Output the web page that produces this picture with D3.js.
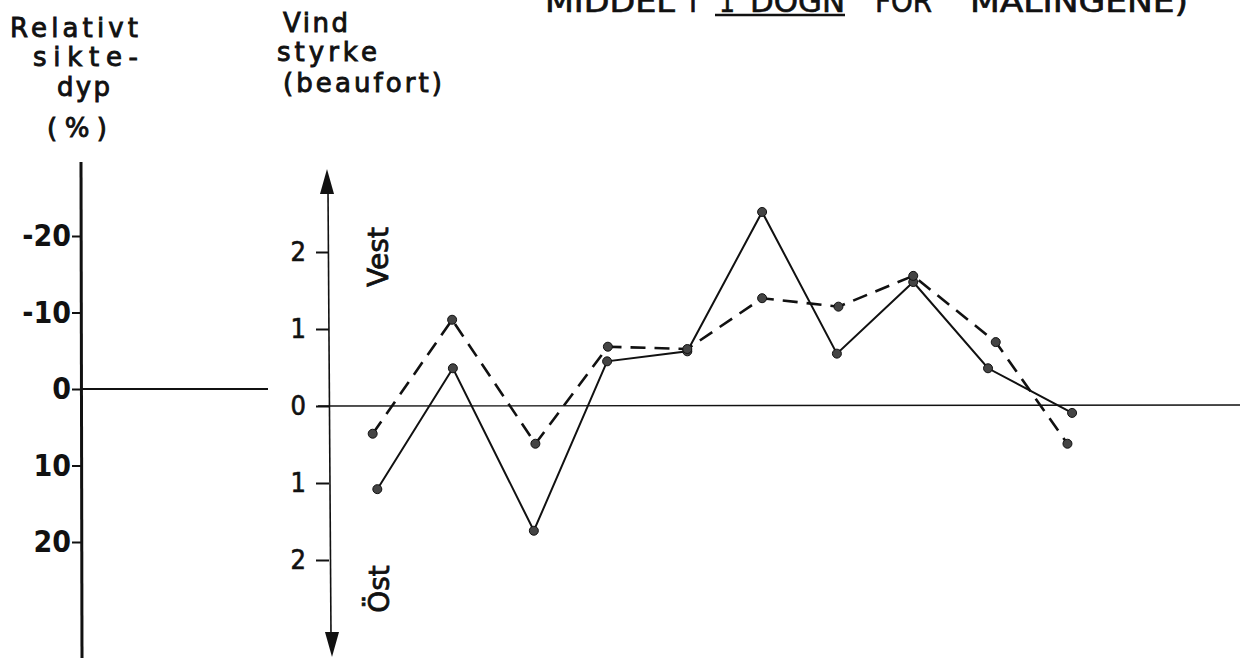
<!DOCTYPE html>
<html>
<head>
<meta charset="utf-8">
<script src="https://cdn.jsdelivr.net/npm/d3@7"></script>
<style>
  body { margin: 0; background: #fff; }
  svg text { font-family: "DejaVu Sans", sans-serif; fill: #111; }
  .tick line { stroke: #111; stroke-width: 2; }
</style>
</head>
<body>
<div id="chart"></div>
<script>
// days along the x axis (slightly uneven like the original)
var solidDays = [1.03, 2.01, 3.06, 4.01, 5.05, 6.02, 6.99, 7.98, 8.95, 10.04];
var dashedDays = [0.97, 2.0, 3.08, 4.02, 5.05, 6.02, 7.01, 7.98, 9.05, 9.98];

// wind strength in beaufort, + = Vest, - = Öst
var solidWind = [-1.08, 0.49, -1.62, 0.58, 0.71, 2.52, 0.68, 1.61, 0.49, -0.09];
var dashedWind = [-0.36, 1.12, -0.49, 0.77, 0.74, 1.40, 1.29, 1.69, 0.83, -0.49];

var siktTicks = [-20, -10, 0, 10, 20];
var windTicks = [-2, -1, 0, 1, 2];

var titleWords = ['MIDDEL', 'I', '1', 'DOGN', 'FOR', 'MALINGENE)'];

var width = 1240, height = 658;

var svg = d3.select('#chart').append('svg')
    .attr('width', width)
    .attr('height', height);

// scales
var xScale = d3.scaleLinear().domain([1, 10]).range([375, 1069]);
var windScale = d3.scaleLinear().domain([-2, 2]).range([560, 252]);
var siktScale = d3.scaleLinear().domain([-20, 20]).range([236, 542]);

// title, cut off by the top edge like in the scan
var titlePos = [[545, 130], [689, 8], [719, 16], [750, 95], [875, 57], [970, 218]];
svg.selectAll('.tw').data(titleWords).enter().append('text')
    .attr('class', 'tw')
    .attr('x', function(d, i) { return titlePos[i][0]; })
    .attr('y', 12)
    .attr('font-size', 30)
    .attr('textLength', function(d, i) { return titlePos[i][1]; })
    .attr('lengthAdjust', 'spacingAndGlyphs')
    .attr('stroke', '#111').attr('stroke-width', 0.6)
    .style('font-family', '"DejaVu Sans Condensed", "DejaVu Sans", sans-serif')
    .text(function(d) { return d; });
svg.append('line')
    .attr('x1', 715).attr('x2', 845)
    .attr('y1', 15).attr('y2', 15)
    .attr('stroke', '#111').attr('stroke-width', 2.5);

// axis titles
var leftLab = [
    {t: 'Relativt', x: 10, y: 37, w: 128},
    {t: 'sikte-', x: 33, y: 66, w: 105},
    {t: 'dyp', x: 57, y: 96, w: 53},
    {t: '(%)', x: 47, y: 137, w: 60}
];
var rightLab = [
    {t: 'Vind', x: 283, y: 32, w: 65},
    {t: 'styrke', x: 277, y: 61, w: 100},
    {t: '(beaufort)', x: 283, y: 92, w: 159}
];
svg.selectAll('.lab').data(leftLab.concat(rightLab)).enter().append('text')
    .attr('class', 'lab')
    .attr('x', function(d) { return d.x; })
    .attr('y', function(d) { return d.y; })
    .attr('font-size', 26)
    .attr('textLength', function(d) { return d.w; })
    .attr('lengthAdjust', 'spacing')
    .attr('stroke', '#111').attr('stroke-width', 0.9)
    .text(function(d) { return d.t; });

// left axis (relative sight depth)
var siktAxis = d3.axisLeft(siktScale)
    .tickValues(siktTicks)
    .tickSize(10)
    .tickPadding(1)
    .tickFormat(function(d) { return d < 0 ? '-' + Math.abs(d) : d; });

var gl = svg.append('g')
    .attr('transform', 'translate(82,0)')
    .call(siktAxis);
gl.select('.domain').remove();
gl.selectAll('.tick text')
    .attr('font-size', 30)
    .attr('font-weight', 'bold')
    .attr('fill', '#111')
    .style('font-family', '"DejaVu Sans Condensed", "DejaVu Sans", sans-serif');

svg.append('line')
    .attr('x1', 81).attr('x2', 82)
    .attr('y1', 162).attr('y2', 658)
    .attr('stroke', '#111').attr('stroke-width', 3);
svg.append('line')
    .attr('x1', 82).attr('x2', 268)
    .attr('y1', siktScale(0)).attr('y2', siktScale(0))
    .attr('stroke', '#111').attr('stroke-width', 2);

// right axis (wind strength)
var windAxis = d3.axisLeft(windScale)
    .tickValues(windTicks)
    .tickSize(13)
    .tickPadding(10)
    .tickFormat(function(d) { return Math.abs(d); });

var gr = svg.append('g')
    .attr('transform', 'translate(329,0)')
    .call(windAxis);
gr.select('.domain').remove();
gr.selectAll('.tick text')
    .attr('font-size', 27)
    .attr('fill', '#111')
    .attr('stroke', '#111').attr('stroke-width', 0.6)
    .style('font-family', '"DejaVu Sans Condensed", "DejaVu Sans", sans-serif');

svg.append('line')
    .attr('x1', 328).attr('x2', 331)
    .attr('y1', 190).attr('y2', 636)
    .attr('stroke', '#111').attr('stroke-width', 1.6);
svg.append('path')
    .attr('d', 'M327,169 L334,194 L320,194 Z')
    .attr('fill', '#111');
svg.append('path')
    .attr('d', 'M332,657 L339,632 L325,632 Z')
    .attr('fill', '#111');

svg.append('line')
    .attr('x1', 318).attr('x2', width)
    .attr('y1', windScale(0)).attr('y2', windScale(0) - 1)
    .attr('stroke', '#111').attr('stroke-width', 1.3);

// direction labels
svg.append('text')
    .attr('transform', 'translate(388,257) rotate(-90)')
    .attr('text-anchor', 'middle')
    .attr('font-size', 28)
    .attr('stroke', '#111').attr('stroke-width', 0.8)
    .text('Vest');
svg.append('text')
    .attr('transform', 'translate(389,589) rotate(-90)')
    .attr('text-anchor', 'middle')
    .attr('font-size', 28)
    .attr('stroke', '#111').attr('stroke-width', 0.8)
    .text('Öst');

// series
function toPts(days, vals) {
    return days.map(function(d, i) { return {day: d, v: vals[i]}; });
}
var solid = toPts(solidDays, solidWind);
var dashed = toPts(dashedDays, dashedWind);

var line = d3.line()
    .x(function(d) { return xScale(d.day); })
    .y(function(d) { return windScale(d.v); });

svg.append('path')
    .datum(dashed)
    .attr('d', line)
    .attr('fill', 'none')
    .attr('stroke', '#111')
    .attr('stroke-width', 2.6)
    .attr('stroke-dasharray', '15,9');

svg.append('path')
    .datum(solid)
    .attr('d', line)
    .attr('fill', 'none')
    .attr('stroke', '#111')
    .attr('stroke-width', 2);

svg.selectAll('.dot')
    .data(solid.concat(dashed))
    .enter().append('circle')
    .attr('class', 'dot')
    .attr('cx', function(d) { return xScale(d.day); })
    .attr('cy', function(d) { return windScale(d.v); })
    .attr('r', 4.5)
    .attr('fill', '#444')
    .attr('stroke', '#111')
    .attr('stroke-width', 1);
</script>
</body>
</html>
